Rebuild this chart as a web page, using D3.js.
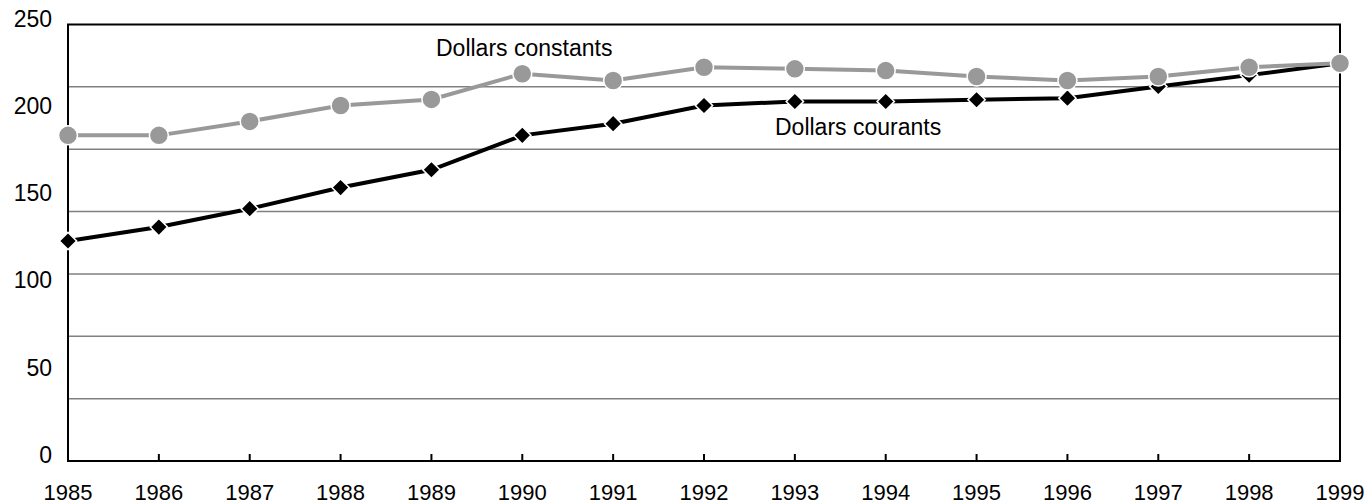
<!DOCTYPE html>
<html>
<head>
<meta charset="utf-8">
<script src="https://cdn.jsdelivr.net/npm/d3@7"></script>
<style>
  body { margin: 0; background: #fff; }
  svg text { font-family: "Liberation Sans", Arial, sans-serif; fill: #000; }
</style>
</head>
<body>
<div id="chart"></div>
<script>
// data
const years = [1985, 1986, 1987, 1988, 1989, 1990, 1991, 1992, 1993, 1994, 1995, 1996, 1997, 1998, 1999];
const constantDollars = [186.5, 186.5, 194.5, 203.6, 207.1, 221.8, 217.9, 225.5, 224.6, 223.6, 220.2, 217.9, 220.2, 225.5, 227.8];
const currentDollars = [126.0, 134.0, 144.5, 156.6, 166.8, 186.5, 193.2, 203.6, 205.9, 205.9, 206.9, 207.8, 214.5, 221.0, 227.8];
const yTickLabels = [0, 50, 100, 150, 200, 250];
const seriesLabels = ["Dollars constants", "Dollars courants"];

const width = 1368, height = 504;
const plotLeft = 68, plotRight = 1340, plotTop = 24.5, plotBottom = 461;

const svg = d3.select('#chart').append('svg')
    .attr('width', width)
    .attr('height', height);

const x = d3.scalePoint().domain(years).range([plotLeft, plotRight]);
const y = d3.scaleLinear().domain([0, 250]).range([plotBottom, plotTop]);

// gridlines (the original uses 7 divisions, not the labelled 50 steps)
const gridVals = d3.range(1, 7).map(i => 250 * i / 7);
svg.append('g')
    .selectAll('line')
    .data(gridVals)
    .enter().append('line')
    .attr('x1', plotLeft).attr('x2', plotRight)
    .attr('y1', d => y(d)).attr('y2', d => y(d))
    .attr('stroke', '#808080')
    .attr('stroke-width', 1.5);

// frame
svg.append('rect')
    .attr('x', plotLeft).attr('y', plotTop)
    .attr('width', plotRight - plotLeft).attr('height', plotBottom - plotTop)
    .attr('fill', 'none')
    .attr('stroke', '#000')
    .attr('stroke-width', 2);

// x ticks pointing inwards
svg.append('g')
    .selectAll('line')
    .data(years.slice(1, -1))
    .enter().append('line')
    .attr('x1', d => x(d)).attr('x2', d => x(d))
    .attr('y1', plotBottom).attr('y2', plotBottom - 7)
    .attr('stroke', '#000')
    .attr('stroke-width', 2);

// x labels
svg.append('g')
    .selectAll('text')
    .data(years)
    .enter().append('text')
    .attr('x', d => x(d))
    .attr('y', 500)
    .attr('text-anchor', 'middle')
    .style('font-size', '22px')
    .text(d => d);

// y labels
svg.append('g')
    .selectAll('text')
    .data(yTickLabels)
    .enter().append('text')
    .attr('x', 52)
    .attr('y', d => y(d) + 2)
    .attr('text-anchor', 'end')
    .style('font-size', '23px')
    .text(d => d);

const line = d3.line()
    .x((d, i) => x(years[i]))
    .y(d => y(d));

// current dollars (black, diamonds)
svg.append('path')
    .datum(currentDollars)
    .attr('d', line)
    .attr('fill', 'none')
    .attr('stroke', '#000')
    .attr('stroke-width', 4);

const diamond = d3.symbol().type(d3.symbolSquare).size(150);
svg.append('g')
    .selectAll('path')
    .data(currentDollars)
    .enter().append('path')
    .attr('d', diamond)
    .attr('transform', (d, i) => `translate(${x(years[i])},${y(d)}) rotate(45)`)
    .attr('fill', '#000')
    .attr('stroke', '#fff')
    .attr('stroke-width', 1.5);

// constant dollars (grey, circles)
svg.append('path')
    .datum(constantDollars)
    .attr('d', line)
    .attr('fill', 'none')
    .attr('stroke', '#999')
    .attr('stroke-width', 4);

svg.append('g')
    .selectAll('circle')
    .data(constantDollars)
    .enter().append('circle')
    .attr('cx', (d, i) => x(years[i]))
    .attr('cy', d => y(d))
    .attr('r', 9.5)
    .attr('fill', '#999')
    .attr('stroke', '#fff')
    .attr('stroke-width', 1.5);

// series labels
svg.append('text')
    .attr('x', 436).attr('y', 56)
    .style('font-size', '23px')
    .text(seriesLabels[0]);

svg.append('text')
    .attr('x', 775).attr('y', 135)
    .style('font-size', '23px')
    .text(seriesLabels[1]);
</script>
</body>
</html>
